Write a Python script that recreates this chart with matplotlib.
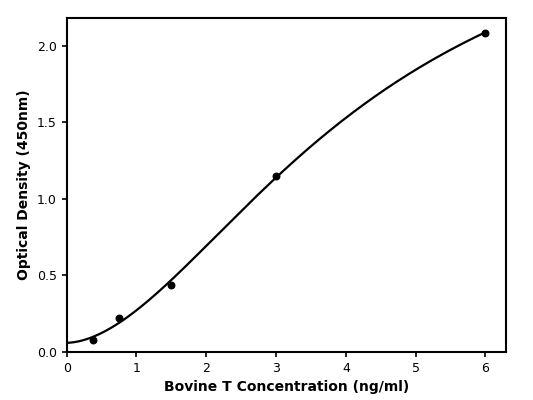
import numpy as np
import matplotlib.pyplot as plt

# Standard curve data
conc = [0.375, 0.75, 1.5, 3.0, 6.0]
od = [0.08, 0.22, 0.44, 1.15, 2.08]


def four_pl(x, a, b, c, d):
    return d + (a - d) / (1.0 + (x / c) ** b)


def fit_4pl(x, y):
    """Crude grid search 4PL fit (no scipy available)."""
    x = np.asarray(x)
    y = np.asarray(y)
    best = None
    for a in np.linspace(0.0, 0.06, 7):
        for b in np.linspace(1.2, 3.0, 37):
            for c in np.linspace(2.0, 8.0, 61):
                for d in np.linspace(2.2, 4.5, 47):
                    err = np.sum((four_pl(x, a, b, c, d) - y) ** 2)
                    if best is None or err < best[0]:
                        best = (err, a, b, c, d)
    return best[1:]


params = fit_4pl(conc, od)
xs = np.linspace(0.001, 6.0, 300)

fig, ax = plt.subplots(figsize=(5.33, 4.0), dpi=100)
ax.plot(xs, four_pl(xs, *params), color='black', linewidth=1.6)
ax.scatter(conc, od, color='black', s=22, zorder=3)

ax.set_xlim(0, 6.3)
ax.set_ylim(0, 2.18)
ax.set_xticks(range(7))
ax.set_yticks([0.0, 0.5, 1.0, 1.5, 2.0])
ax.set_xlabel('Bovine T Concentration (ng/ml)', fontsize=10, fontweight='bold')
ax.set_ylabel('Optical Density (450nm)', fontsize=10, fontweight='bold')
ax.tick_params(labelsize=9, width=1.2)
for s in ax.spines.values():
    s.set_linewidth(1.5)

plt.subplots_adjust(left=0.125, right=0.95, top=0.955, bottom=0.12)
plt.savefig('out.png', dpi=100)
